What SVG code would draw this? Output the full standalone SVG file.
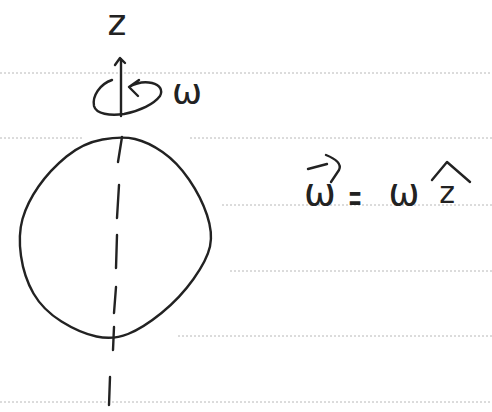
<svg xmlns="http://www.w3.org/2000/svg" width="492" height="412" viewBox="0 0 492 412">
<style>
.rule{stroke:#b8b8b8;stroke-width:1;stroke-dasharray:2 2;fill:none}
.ink{stroke:#222;stroke-width:2.4;fill:none;stroke-linecap:round;stroke-linejoin:round}
.txt{font-family:"DejaVu Sans",sans-serif;fill:#222}
</style>
<rect width="492" height="412" fill="#fff"/>
<g id="rules">
<line class="rule" x1="0" y1="73" x2="492" y2="73"/>
<line class="rule" x1="0" y1="138" x2="83" y2="138"/>
<line class="rule" x1="190" y1="138" x2="492" y2="138"/>
<line class="rule" x1="222" y1="205" x2="492" y2="205"/>
<line class="rule" x1="230" y1="271" x2="492" y2="271"/>
<line class="rule" x1="178" y1="336" x2="492" y2="336"/>
<line class="rule" x1="0" y1="402" x2="492" y2="402"/>
</g>
<g id="sphere">
<path class="ink" d="M 102.5 139.5 Q 83 143 66.5 156.5 Q 50 170 38.5 186.5 Q 27 203 22.5 219 Q 18 235 21 256 Q 24 277 33.5 293.5 Q 43 310 61.5 321.5 Q 80 333 96.5 336.5 Q 113 340 128 334 Q 143 328 161.5 313 Q 180 298 193.5 279 Q 207 260 210 246.5 Q 213 233 207 215 Q 201 197 189 179.5 Q 177 162 162.5 152 Q 148 142 135 139 Q 122 136 102.5 139.5 Z"/>
</g>
<g id="connectors">
<g id="axis">
<path class="ink" d="M122 137 L118 162 M119 185 L117 218 M117 235 L116 268 M116 287 L114 313 M114 327 L113 350 M110 377 L109 405"/>
<path class="ink" d="M121 116 L121 59 M115 65 L120 58 L125 63"/>
</g>
<g id="rotation">
<path class="ink" d="M112 80 C 100 84 92 96 94 106 C 96 114 110 116 124 114 C 140 111 154 104 160 96 C 163 90 160 85 152 83 C 144 81 136 83 129 87 M139 80 L129 87 L138 96"/>
</g>
</g>
<g id="label-z">
<text class="txt" x="117" y="35" font-size="36" text-anchor="middle">z</text>
</g>
<g id="label-omega">
<text class="txt" x="187" y="104" font-size="36" text-anchor="middle">ω</text>
</g>
<g id="equation">
<text class="txt" x="320" y="205" font-size="38" text-anchor="middle">ω</text>
<path class="ink" d="M308 169 L327 164 M326 155 C 336 159 342 164 339 170 L331 182"/>
<text class="txt" x="0" y="0" font-size="24" text-anchor="middle" transform="translate(355,213) scale(0.7,1.9)">=</text>
<text class="txt" x="404" y="205" font-size="37" text-anchor="middle">ω</text>
<text class="txt" x="447" y="203" font-size="30" text-anchor="middle">z</text>
<path class="ink" d="M432 180 L447 162 L470 182"/>
</g>
</svg>
